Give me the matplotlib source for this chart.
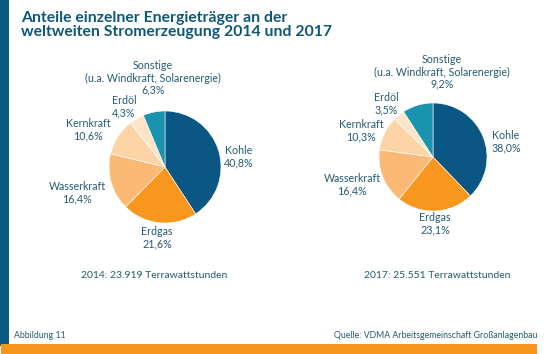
import matplotlib.pyplot as plt

plt.rcParams["font.family"] = ["Lato", "DejaVu Sans"]

W, H = 546, 354

labels = ["Kohle", "Erdgas", "Wasserkraft", "Kernkraft", "Erdöl",
          "Sonstige\n(u.a. Windkraft, Solarenergie)"]
shares_2014 = [40.8, 21.6, 16.4, 10.6, 4.3, 6.3]
shares_2017 = [38.0, 23.1, 16.4, 10.3, 3.5, 9.2]
totals = ["2014: 23.919 Terrawattstunden", "2017: 25.551 Terrawattstunden"]
colors = ["#0a5783", "#f8961d", "#fbb975", "#fcd3a5", "#fde4c8", "#1a93ae"]

text_col = "#245a74"
title_col = "#0d5878"

fig = plt.figure(figsize=(W / 100, H / 100), dpi=100)
fig.patch.set_facecolor("white")


def px(x, y):
    return x / W, 1 - y / H


# pie centres / radii in pixels, label positions (centre of text block)
pies = [
    dict(c=(165, 167), r=56, data=shares_2014,
         pos=[(239, 157), (157, 238), (77, 193), (88, 130), (124, 107), (153, 78)],
         total=(154, 276)),
    dict(c=(433, 157), r=54, data=shares_2017,
         pos=[(506, 142), (435, 224), (352, 185), (361, 131), (386, 104), (442, 72)],
         total=(437, 276)),
]

for p, tot in zip(pies, totals):
    cx, cy = p["c"]
    r = p["r"]
    ax = fig.add_axes([(cx - r) / W, 1 - (cy + r) / H, 2 * r / W, 2 * r / H])
    ax.pie(p["data"], colors=colors, startangle=90, counterclock=False,
           wedgeprops=dict(edgecolor="white", linewidth=0.4))
    ax.set_xlim(-1, 1)
    ax.set_ylim(-1, 1)
    ax.set_aspect("equal")
    ax.axis("off")
    for lab, val, (lx, ly) in zip(labels, p["data"], p["pos"]):
        s = lab + "\n" + f"{val:.1f}".replace(".", ",") + "%"
        fig.text(*px(lx, ly), s, ha="center", va="center", fontsize=7.7,
                 color=text_col, linespacing=1.15)
    fig.text(*px(*p["total"]), tot, ha="center", va="center", fontsize=7.5,
             color=text_col)

# title
fig.text(*px(21, 25), "Anteile einzelner Energieträger an der\nweltweiten Stromerzeugung 2014 und 2017",
         ha="left", va="center", fontsize=11.3, fontweight="bold", color=title_col,
         linespacing=1.0)

fig.text(*px(14, 336), "Abbildung 11", ha="left", va="center", fontsize=6.3, color=text_col)
fig.text(*px(537, 336), "Quelle: VDMA Arbeitsgemeinschaft Großanlagenbau", ha="right",
         va="center", fontsize=6.3, color=text_col)

# decorative bars
fig.add_artist(plt.Rectangle((0, 1 - 346 / H), 9 / W, 346 / H, transform=fig.transFigure,
                             color="#0a5a84", lw=0))
fig.add_artist(plt.Rectangle((1 / W, 0), 536 / W, 10 / H, transform=fig.transFigure,
                             color="#f7941e", lw=0))

fig.savefig("out.png", dpi=100)
